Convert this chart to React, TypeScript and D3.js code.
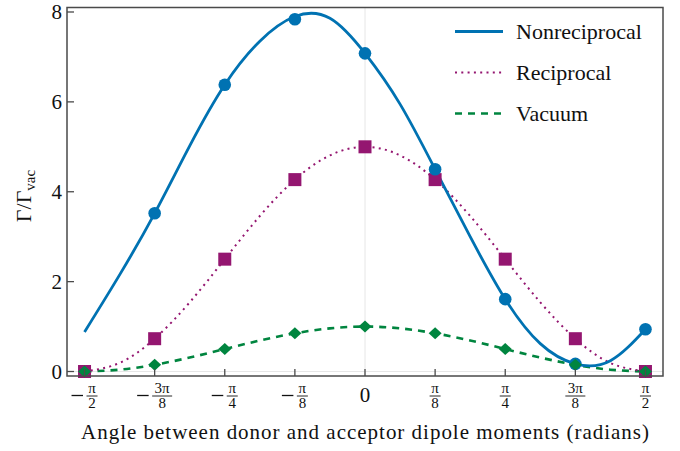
import React from 'react';
import * as d3 from 'd3';

// angles are in units of pi/8 for markers and ticks, pi/16 for the smooth curves
const tickSteps = [-4, -3, -2, -1, 0, 1, 2, 3, 4];
const tickNum = ['π', '3π', 'π', 'π', '0', 'π', 'π', '3π', 'π'];
const tickDen = ['2', '8', '4', '8', '', '8', '4', '8', '2'];
const tickNeg = [true, true, true, true, false, false, false, false, false];
const yTicks = [0, 2, 4, 6, 8];

const curveSteps = [-8, -7, -6, -5, -4, -3, -2, -1, 0, 1, 2, 3, 4, 5, 6, 7, 8];
const nonrecipCurve = [0.88, 2.15, 3.52, 5.02, 6.38, 7.35, 7.9, 7.86, 7.08, 5.95, 4.5, 3.0, 1.61, 0.62, 0.17, 0.24, 0.94];
const recipCurve = [0, 0.19, 0.73, 1.54, 2.5, 3.46, 4.27, 4.81, 5.0, 4.81, 4.27, 3.46, 2.5, 1.54, 0.73, 0.19, 0];
const vacCurve = [0, 0.04, 0.15, 0.31, 0.5, 0.69, 0.85, 0.96, 1.0, 0.96, 0.85, 0.69, 0.5, 0.31, 0.15, 0.04, 0];

const nonrecipSteps = [-3, -2, -1, 0, 1, 2, 3, 4];
const nonrecipPts = [3.52, 6.38, 7.84, 7.08, 4.5, 1.61, 0.17, 0.94];
const markerSteps = [-4, -3, -2, -1, 0, 1, 2, 3, 4];
const recipPts = [0, 0.73, 2.5, 4.27, 5.0, 4.27, 2.5, 0.73, 0];
const vacPts = [0, 0.15, 0.5, 0.85, 1.0, 0.85, 0.5, 0.15, 0];

const seriesNames = ['Nonreciprocal', 'Reciprocal', 'Vacuum'];

const width = 680;
const height = 451;
const margin = { top: 7.5, right: 17, bottom: 75, left: 67 };
const font = '"Liberation Serif", "DejaVu Serif", serif';
const blue = '#0072b2';
const purple = '#941670';
const green = '#00853f';
const frame = '#4a4a4a';
const ink = '#111';

const App = () => {
  const x = d3
    .scaleLinear()
    .domain([-Math.PI / 2 * 1.0625, Math.PI / 2 * 1.0625])
    .range([margin.left, width - margin.right]);
  const y = d3
    .scaleLinear()
    .domain([-0.1, 8.1])
    .range([height - margin.bottom, margin.top]);

  const line = d3
    .line<number>()
    .x((d, i) => x((curveSteps[i] * Math.PI) / 16))
    .y((d) => y(d))
    .curve(d3.curveNatural);

  const px = (k: number) => x((k * Math.PI) / 8);
  const x0 = margin.left;
  const x1 = width - margin.right;
  const y0 = height - margin.bottom;
  const y1 = margin.top;
  const ts = { fontFamily: font };

  return (
    <svg width={width} height={height} style={{ position: 'absolute', left: 0, top: 0, fontFamily: font }}>
      <rect width={width} height={height} fill="#fff" />
      {/* zero lines */}
      <line x1={x(0)} x2={x(0)} y1={y1} y2={y0} stroke="#e6e6e6" />
      <line x1={x0} x2={x1} y1={y(0)} y2={y(0)} stroke="#e6e6e6" />

      {/* curves */}
      <path d={line(vacCurve) || ''} fill="none" stroke={green} strokeWidth={2.6} strokeDasharray="7 6" />
      <path d={line(recipCurve) || ''} fill="none" stroke={purple} strokeWidth={2} strokeDasharray="2 4.3" />
      <path d={line(nonrecipCurve) || ''} fill="none" stroke={blue} strokeWidth={2.8} />

      {/* markers */}
      {recipPts.map((v, i) => (
        <rect key={'r' + i} x={px(markerSteps[i]) - 6.5} y={y(v) - 6.5} width={13} height={13} fill={purple} />
      ))}
      {nonrecipPts.map((v, i) => (
        <circle key={'n' + i} cx={px(nonrecipSteps[i])} cy={y(v)} r={6.3} fill={blue} />
      ))}
      {vacPts.map((v, i) => {
        const cx = px(markerSteps[i]);
        const cy = y(v);
        return (
          <path
            key={'v' + i}
            d={`M${cx},${cy - 6} L${cx + 6.5},${cy} L${cx},${cy + 6} L${cx - 6.5},${cy} Z`}
            fill={green}
          />
        );
      })}

      {/* frame + ticks */}
      <rect x={x0} y={y1} width={x1 - x0} height={y0 - y1} fill="none" stroke={frame} strokeWidth={1.5} />
      {tickSteps.map((k) => (
        <line key={'xt' + k} x1={px(k)} x2={px(k)} y1={y0} y2={y0 - 7} stroke={frame} strokeWidth={1.3} />
      ))}
      {yTicks.map((v) => (
        <line key={'yt' + v} x1={x0} x2={x0 + 7} y1={y(v)} y2={y(v)} stroke={frame} strokeWidth={1.3} />
      ))}

      {/* y tick labels */}
      {yTicks.map((v) => (
        <text key={'yl' + v} style={ts} x={x0 - 5} y={y(v) + 7} fontSize={21} textAnchor="end" fill={ink}>
          {v}
        </text>
      ))}

      {/* x tick labels (fractions of pi) */}
      {tickSteps.map((k, i) => {
        const cx = px(k);
        if (tickDen[i] === '') {
          return (
            <text key={'xl' + k} style={ts} x={cx} y={401.5} fontSize={21} textAnchor="middle" fill={ink}>
              {tickNum[i]}
            </text>
          );
        }
        const fw = tickNum[i].length > 1 ? 20 : 11;
        const mw = tickNeg[i] ? 15 : 0;
        const left = cx - (fw + mw) / 2;
        const fc = left + mw + fw / 2;
        return (
          <g key={'xl' + k} fill={ink}>
            {tickNeg[i] && <line x1={left} x2={left + 11.5} y1={395.5} y2={395.5} stroke={ink} strokeWidth={1.3} />}
            <text style={ts} x={fc} y={393} fontSize={15} textAnchor="middle">
              {tickNum[i]}
            </text>
            <line x1={fc - fw / 2} x2={fc + fw / 2} y1={396} y2={396} stroke={ink} strokeWidth={0.9} />
            <text style={ts} x={fc} y={408} fontSize={15} textAnchor="middle">
              {tickDen[i]}
            </text>
          </g>
        );
      })}

      {/* axis titles */}
      <text style={ts} x={(x0 + x1) / 2} y={439} fontSize={21} textAnchor="middle" fill={ink} textLength={568} lengthAdjust="spacing">
        Angle between donor and acceptor dipole moments (radians)
      </text>
      <text style={ts} transform="translate(31,196) rotate(-90)" fontSize={22} textAnchor="middle" fill={ink}>
        Γ/Γ<tspan fontSize={15} dy={4}>vac</tspan>
      </text>

      {/* legend */}
      {seriesNames.map((name, i) => {
        const ly = 31.5 + i * 41;
        const stroke = [blue, purple, green][i];
        const dash = ['', '2 4.3', '7 6'][i];
        const sw = [2.8, 2, 2.6][i];
        return (
          <g key={name}>
            <line x1={455} x2={503} y1={ly} y2={ly} stroke={stroke} strokeWidth={sw} strokeDasharray={dash || undefined} />
            <text style={ts} x={516} y={ly + 7} fontSize={22} fill={ink}>
              {name}
            </text>
          </g>
        );
      })}
    </svg>
  );
};

export default App;
